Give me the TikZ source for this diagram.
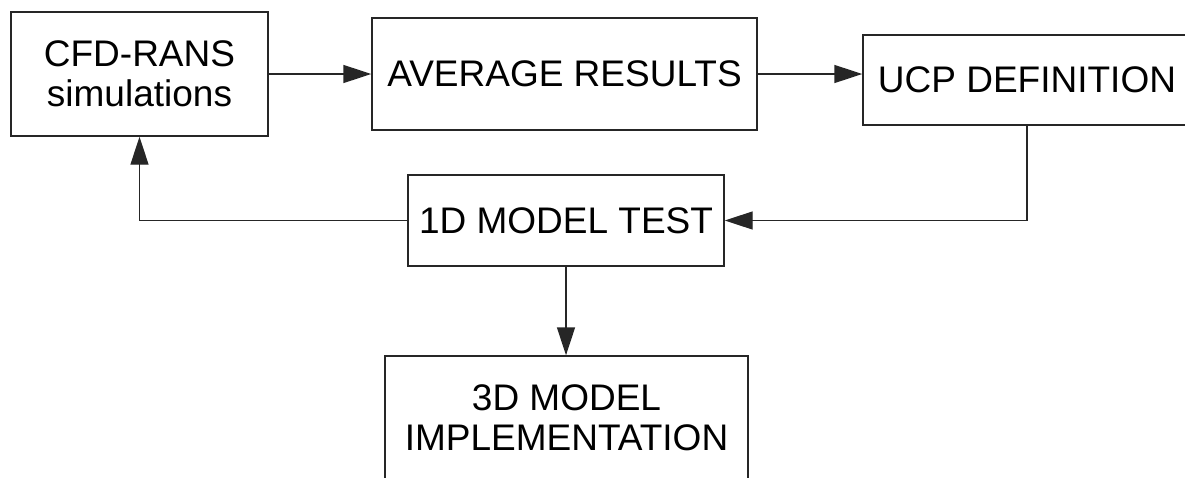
\documentclass[tikz,border=0pt]{standalone}
\usepackage{fontspec}
\setmainfont{Liberation Sans}
\usetikzlibrary{arrows.meta}
\tikzset{
  box/.style={draw=black!85, line width=1.4pt, fill=white, inner sep=0pt,
    align=center, font=\fontsize{37}{40}\selectfont},
  flow/.style={draw=black!85, line width=1.4pt,
    -{Triangle[length=28pt,width=18pt]}}
}
\begin{document}
\begin{tikzpicture}[x=1pt,y=-1pt]
\useasboundingbox (0,0) rectangle (1185,477);
\clip (0,0) rectangle (1185,477);

% process steps
\node[box, minimum width=257pt, minimum height=124pt] (cfd) at (139.5,74) {CFD-RANS\\simulations};
\node[box, minimum width=385pt, minimum height=112pt] (avg) at (564.5,74) {AVERAGE RESULTS};
\node[box, minimum width=328pt, minimum height=90pt] (ucp) at (1027,80) {UCP DEFINITION};
\node[box, minimum width=316pt, minimum height=91pt] (t1d) at (566,220.5) {1D MODEL TEST};
\node[box, minimum width=363pt, minimum height=123pt] (t3d) at (566.5,417.5) {3D MODEL\\IMPLEMENTATION};

% connectors
\draw[flow] (cfd) -- (avg);
\draw[flow] (avg.east) -- (avg.east -| ucp.west);
\draw[flow] (ucp.south) |- (t1d.east);
\draw[flow] (t1d.west) -| (cfd.south);
\draw[flow] (t1d.south) -- (t3d.north -| t1d.south);
\end{tikzpicture}
\end{document}
